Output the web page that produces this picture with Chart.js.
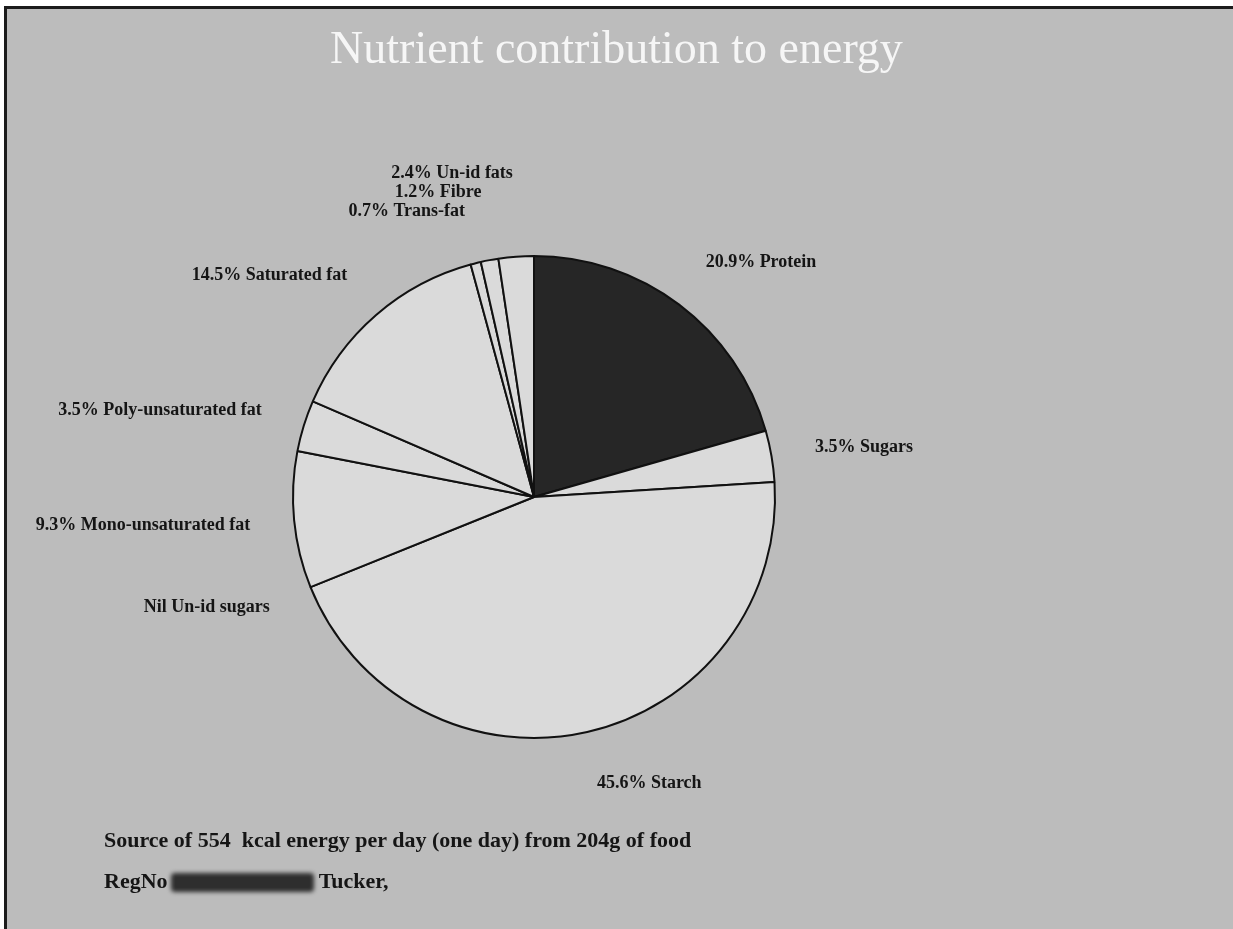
<!DOCTYPE html>
<html>
<head>
<meta charset="utf-8">
<title>Nutrient contribution to energy</title>
<script src="https://cdn.jsdelivr.net/npm/chart.js@4.4.1/dist/chart.umd.min.js"></script>
<style>
  html, body { margin: 0; padding: 0; background: #fff; }
  body { width: 1233px; height: 929px; position: relative; overflow: hidden; }
  #panel {
    position: absolute; left: 4px; top: 6px; width: 1229px; height: 923px;
    background: #bcbcbc;
    border-top: 3px solid #1c1c1c; border-left: 3px solid #1c1c1c;
    box-sizing: border-box;
  }
  #chart { position: absolute; left: 0; top: 0; }
  .title {
    position: absolute; left: 0; width: 1233px; top: 25px; text-align: center;
    font: 46px/46px "Liberation Serif", "Times New Roman", serif; color: #f6f6f6;
  }
  .foot {
    position: absolute; left: 104px; white-space: pre;
    font: bold 22px/22px "Liberation Serif", "Times New Roman", serif; color: #151515;
  }
  .blot {
    display: inline-block; width: 143px; height: 19px; vertical-align: -4px;
    margin-left: 3px; background: #2e2e2e; filter: blur(2px); border-radius: 4px;
  }
</style>
</head>
<body>
<div id="panel"></div>
<canvas id="chart" width="1233" height="929"></canvas>
<div class="title">Nutrient contribution to energy</div>
<div class="foot" style="top:829px">Source of 554  kcal energy per day (one day) from 204g of food</div>
<div class="foot" style="top:870px">RegNo<span class="blot"></span> Tucker,</div>
<script>
// share of energy, % (as printed on the chart)
const nutrients = ['Protein', 'Sugars', 'Starch', 'Un-id sugars', 'Mono-unsaturated fat',
                   'Poly-unsaturated fat', 'Saturated fat', 'Trans-fat', 'Fibre', 'Un-id fats'];
const percents = [20.9, 3.5, 45.6, 0, 9.3, 3.5, 14.5, 0.7, 1.2, 2.4];

const LABEL_GAP = 44;
const LABEL_H = 18;

const labelText = i => percents[i] === 0
  ? 'Nil ' + nutrients[i]
  : percents[i].toFixed(1) + '% ' + nutrients[i];

// labels sit just outside each slice (left side right-aligned, right side
// left-aligned) and get pushed upward when they would overlap
const sliceLabels = {
  id: 'sliceLabels',
  afterDatasetsDraw(chart) {
    const ctx = chart.ctx;
    const meta = chart.getDatasetMeta(0);
    const placed = [];
    ctx.save();
    ctx.font = 'bold 18px "Liberation Serif", "Times New Roman", serif';
    ctx.fillStyle = '#151515';
    ctx.textAlign = 'left';
    ctx.textBaseline = 'middle';
    meta.data.forEach((arc, i) => {
      const p = arc.getProps(['x', 'y', 'startAngle', 'endAngle', 'outerRadius'], true);
      const mid = (p.startAngle + p.endAngle) / 2;
      const c = Math.cos(mid), s = Math.sin(mid);
      const r = p.outerRadius + LABEL_GAP;
      const text = labelText(i);
      const w = ctx.measureText(text).width;
      const ax = p.x + c * r;
      const left = c >= 0 ? ax : ax - w;
      let cy = p.y + s * r + s * LABEL_H / 2;
      let moved = true;
      while (moved) {
        moved = false;
        for (const b of placed) {
          if (left < b.left + b.w && b.left < left + w && Math.abs(cy - b.cy) < LABEL_H) {
            cy = b.cy - LABEL_H - 1;
            moved = true;
          }
        }
      }
      placed.push({ left, cy, w });
      ctx.fillText(text, left, cy);
    });
    ctx.restore();
  }
};

const ctx = document.getElementById('chart').getContext('2d');
const pie = new Chart(ctx, {
  type: 'pie',
  data: {
    labels: nutrients,
    datasets: [{
      data: percents,
      backgroundColor: percents.map((v, i) => i === 0 ? '#262626' : '#dadada'),
      borderColor: '#111111',
      borderWidth: 2,
      radius: 241,
      hoverOffset: 0
    }]
  },
  options: {
    responsive: false,
    animation: false,
    rotation: 0,
    layout: { padding: { left: 0, right: 165, top: 65, bottom: 0 } },
    plugins: {
      legend: { display: false },
      title: { display: false },
      tooltip: { enabled: false }
    }
  },
  plugins: [sliceLabels]
});
</script>
</body>
</html>
